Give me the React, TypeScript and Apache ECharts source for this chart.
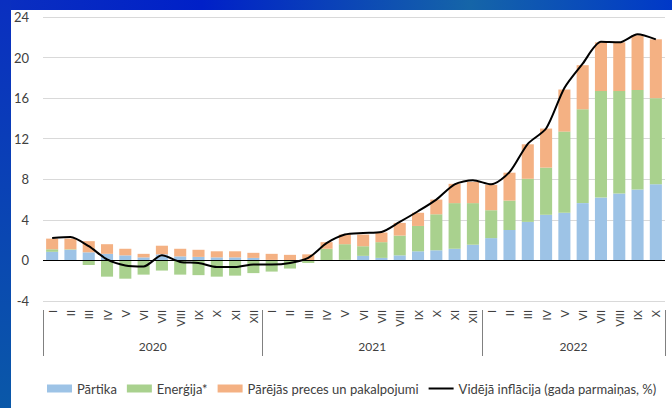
import React, { useEffect, useRef } from "react";
import * as echarts from "echarts";

const romans = ["I", "II", "III", "IV", "V", "VI", "VII", "VIII", "IX", "X", "XI", "XII"];
const years = ["2020", "2021", "2022"];
const monthsPerYear = [12, 12, 10];
const months: string[] = monthsPerYear.flatMap((n) => romans.slice(0, n));

const partika = [
  0.85, 1.05, 0.8, 0.65, 0.5, 0.3, 0.6, 0.4, 0.35, 0.3, 0.3, 0.25,
  0.05, 0.0, 0.0, 0.0, 0.05, 0.45, 0.25, 0.5, 0.9, 1.0, 1.15, 1.55,
  2.2, 3.0, 3.8, 4.5, 4.7, 5.65, 6.2, 6.6, 7.0, 7.5,
];
const energija = [
  0.25, 0.05, -0.45, -1.6, -1.8, -1.4, -1.0, -1.4, -1.45, -1.6, -1.5, -1.25,
  -1.1, -0.8, -0.25, 1.15, 1.55, 0.95, 1.55, 1.95, 2.5, 3.55, 4.5, 4.1,
  2.75, 2.9, 4.25, 4.65, 8.0, 9.25, 10.5, 10.1, 9.8, 8.5,
];
const parejas = [
  1.05, 1.05, 1.1, 0.95, 0.65, 0.35, 0.85, 0.75, 0.7, 0.6, 0.6, 0.5,
  0.6, 0.55, 0.6, 0.65, 0.95, 1.15, 0.95, 1.25, 1.3, 1.45, 1.9, 2.1,
  2.5, 2.75, 3.4, 3.85, 4.15, 4.35, 4.8, 4.8, 5.4, 5.8,
];
const inflacija = [
  2.2, 2.3, 1.4, 0.1, -0.5, -0.6, 0.5, -0.15, -0.25, -0.65, -0.65, -0.4,
  -0.4, -0.25, 0.25, 1.7, 2.55, 2.7, 2.8, 3.8, 4.85, 6.0, 7.5, 7.9,
  7.5, 8.7, 11.5, 13.0, 17.0, 19.4, 21.55, 21.5, 22.3, 21.8,
];
const yTicks = { min: -4, max: 24, interval: 4 };

const FONT = "Lato, 'Open Sans', sans-serif";
const TEXT = "#404040";
const LINE_ICON = "path://M0,0 L0.01,0 M0,3 L25,3 L25,5 L0,5 Z M0,8 L0.01,8";

export default function App() {
  const ref = useRef<HTMLDivElement>(null);
  useEffect(() => {
    document.body.style.margin = "0";
    const chart = echarts.init(ref.current!, null, { renderer: "svg" });
    const boundaries: number[] = [0];
    const centers: number[] = [];
    let acc = 0;
    monthsPerYear.forEach((n) => {
      centers.push(acc + n / 2);
      acc += n;
      boundaries.push(acc);
    });
    const total = acc;
    chart.setOption({
      animation: false,
      backgroundColor: "#ffffff",
      textStyle: { fontFamily: FONT },
      graphic: [
        {
          type: "rect",
          z: -10,
          shape: { x: 0, y: 0, width: 672, height: 10 },
          style: {
            fill: new echarts.graphic.LinearGradient(0, 0, 1, 0, [
              { offset: 0, color: "#0a2fc0" },
              { offset: 0.3, color: "#0020c8" },
              { offset: 0.7, color: "#1565a8" },
              { offset: 1, color: "#0038c8" },
            ]),
          },
        },
        {
          type: "rect",
          z: -10,
          shape: { x: 0, y: 0, width: 11, height: 408 },
          style: {
            fill: new echarts.graphic.LinearGradient(0, 0, 0, 1, [
              { offset: 0, color: "#0a2fc0" },
              { offset: 1, color: "#0a58a8" },
            ]),
          },
        },
      ],
      grid: { left: 43, right: 7, top: 17, bottom: 107, containLabel: false },
      legend: {
        left: 42,
        top: 377,
        itemWidth: 25,
        itemHeight: 8,
        itemGap: 10,
        textStyle: { fontSize: 13, color: TEXT, fontFamily: FONT },
        data: [
          { name: "Pārtika", icon: "rect" },
          { name: "Enerģija*", icon: "rect" },
          { name: "Pārējās preces un pakalpojumi", icon: "rect" },
          { name: "Vidējā inflācija (gada parmaiņas, %)", icon: LINE_ICON, itemStyle: { color: "#000000" } },
        ],
      },
      xAxis: [
        {
          type: "category",
          data: months,
          position: "bottom",
          axisLine: { show: false },
          axisTick: { show: false },
          axisLabel: {
            rotate: 90,
            interval: 0,
            margin: 9,
            fontSize: 11,
            color: TEXT,
            fontFamily: FONT,
          },
        },
        {
          type: "value",
          min: 0,
          max: total,
          position: "bottom",
          offset: 9,
          axisLine: { show: false },
          splitLine: { show: false },
          axisTick: {
            show: true,
            customValues: boundaries,
            length: 46,
            lineStyle: { color: "#808080", width: 1 },
          },
          axisLabel: {
            customValues: centers,
            margin: 30,
            fontSize: 12,
            color: TEXT,
            fontFamily: FONT,
            formatter: (v: number) => {
              const i = centers.findIndex((c) => Math.abs(c - v) < 0.01);
              return i >= 0 ? years[i] : "";
            },
          },
        },
      ],
      yAxis: {
        type: "value",
        min: yTicks.min,
        max: yTicks.max,
        interval: yTicks.interval,
        axisLine: { show: false },
        axisTick: { show: false },
        axisLabel: { margin: 14, fontSize: 13, color: TEXT, fontFamily: FONT },
        splitLine: { lineStyle: { color: "#d9d9d9", width: 1 } },
      },
      series: [
        {
          name: "Pārtika",
          type: "bar",
          stack: "s",
          data: partika,
          barCategoryGap: "34%",
          itemStyle: { color: "#9dc3e6" },
          markLine: {
            silent: true,
            symbol: "none",
            label: { show: false },
            lineStyle: { color: "#000000", width: 1, type: "solid" },
            data: [{ yAxis: 0 }],
            z: 5,
          },
        },
        {
          name: "Enerģija*",
          type: "bar",
          stack: "s",
          data: energija,
          itemStyle: { color: "#a9d18e" },
        },
        {
          name: "Pārējās preces un pakalpojumi",
          type: "bar",
          stack: "s",
          data: parejas,
          itemStyle: { color: "#f4b183" },
        },
        {
          name: "Vidējā inflācija (gada parmaiņas, %)",
          type: "line",
          data: inflacija,
          symbol: "none",
          smooth: 0.25,
          z: 10,
          lineStyle: { color: "#000000", width: 2 },
          itemStyle: { color: "#000000" },
        },
      ],
    });
    return () => chart.dispose();
  }, []);
  return (
    <div
      ref={ref}
      style={{ position: "fixed", left: 0, top: 0, width: 672, height: 408 }}
    />
  );
}
